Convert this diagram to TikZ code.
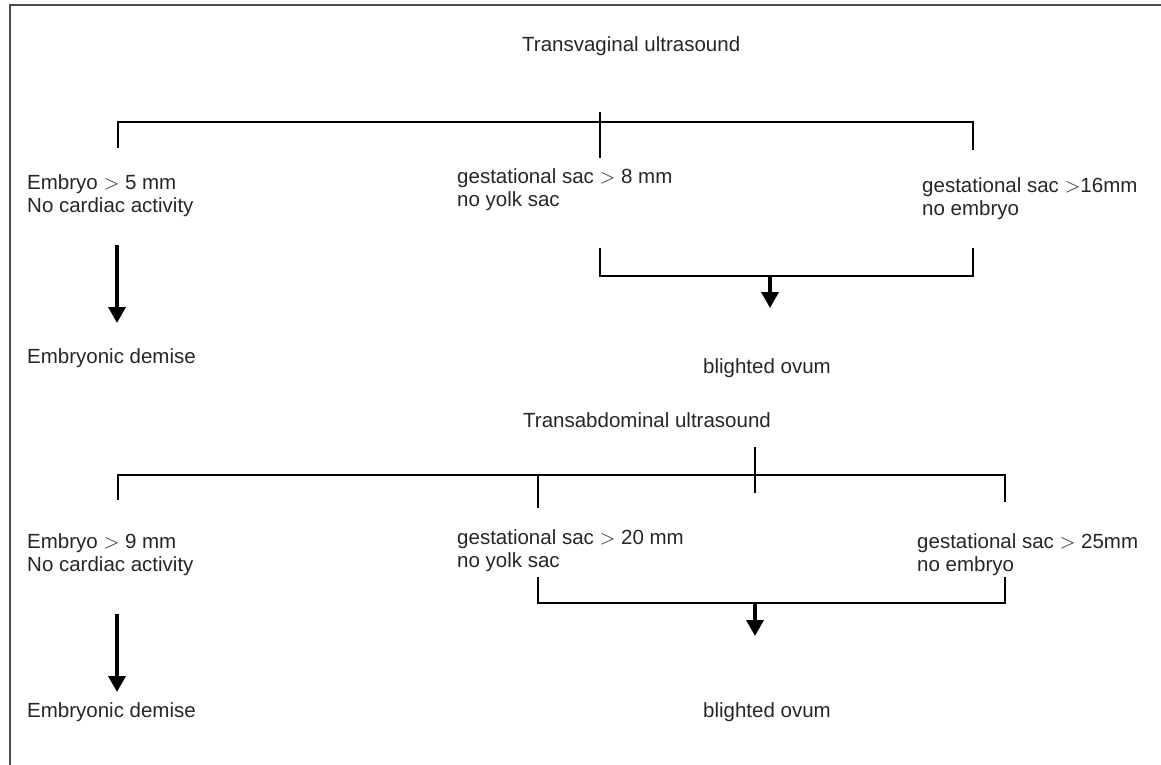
\documentclass[tikz,border=0pt]{standalone}
\usepackage{fontspec}
\setmainfont{Liberation Sans}
\usetikzlibrary{arrows.meta}

\begin{document}
\begin{tikzpicture}[x=1pt, y=-1pt,
	every node/.style={font=\fontsize{20.5}{23.5}\selectfont, text=black!85, inner sep=0pt},
	leaf/.style={align=left, anchor=north west},
	rule/.style={line width=1.5pt},
	down/.style={line width=3.6pt, -{Triangle[width=17pt,length=16pt]}}]
	\useasboundingbox (0,0) rectangle (1161,765);
	% frame
	\draw[line width=1.5pt, black!70] (10,765) -- (10,5) -- (1161,5);

	% Transvaginal part
	\node[anchor=base west] (tvus) at (522,52) {Transvaginal ultrasound};
	\coordinate (tvtop) at (600,112);
	\coordinate (tvbot) at (600,158);
	\coordinate (tvl) at (118,122);
	\coordinate (tvr) at (973,122);
	\draw[rule] (tvtop) -- (tvbot);
	\draw[rule] (118,148) -- (tvl) -- (tvr) -- (973,150);
	\node[leaf] (tvemb) at (27,174) {Embryo $>$ 5 mm\\No cardiac activity};
	\node[leaf] (tvsac) at (457,168) {gestational sac $>$ 8 mm\\no yolk sac};
	\node[leaf] (tvsix) at (922,177) {gestational sac $>$16mm\\no embryo};
	\coordinate (tva) at (117,245);
	\coordinate (tvb) at (117,323);
	\draw[down] (tva) -- (tvb);
	\coordinate (tvjl) at (600,276);
	\coordinate (tvjr) at (973,276);
	\coordinate (tvjm) at (770,276);
	\coordinate (tvjd) at (770,308);
	\draw[rule] (600,248) -- (tvjl) -- (tvjr) -- (973,248);
	\draw[down] (tvjm) -- (tvjd);
	\node[anchor=base west] (tvdem) at (27,363) {Embryonic demise};
	\node[anchor=base] (tvbli) at (767,373) {blighted ovum};

	% Transabdominal part
	\node[anchor=base west] (taus) at (523,427) {Transabdominal ultrasound};
	\coordinate (tatop) at (755,447);
	\coordinate (tabot) at (755,493);
	\coordinate (tal) at (118,475);
	\coordinate (tar) at (1005,475);
	\draw[rule] (tatop) -- (tabot);
	\draw[rule] (118,500) -- (tal) -- (tar) -- (1005,502);
	\draw[rule] (538,475) -- (538,508);
	\node[leaf] (taemb) at (27,533) {Embryo $>$ 9 mm\\No cardiac activity};
	\node[leaf] (tasac) at (457,529) {gestational sac $>$ 20 mm\\no yolk sac};
	\node[leaf] (tatwf) at (917,533) {gestational sac $>$ 25mm\\no embryo};
	\coordinate (taa) at (117,614);
	\coordinate (tab) at (117,692);
	\draw[down] (taa) -- (tab);
	\coordinate (tajl) at (538,603);
	\coordinate (tajr) at (1005,603);
	\coordinate (tajm) at (755,603);
	\coordinate (tajd) at (755,636);
	\draw[rule] (538,577) -- (tajl) -- (tajr) -- (1005,577);
	\draw[down] (tajm) -- (tajd);
	\node[anchor=base west] (tadem) at (27,717) {Embryonic demise};
	\node[anchor=base] (tabli) at (767,717) {blighted ovum};
\end{tikzpicture}
\end{document}
